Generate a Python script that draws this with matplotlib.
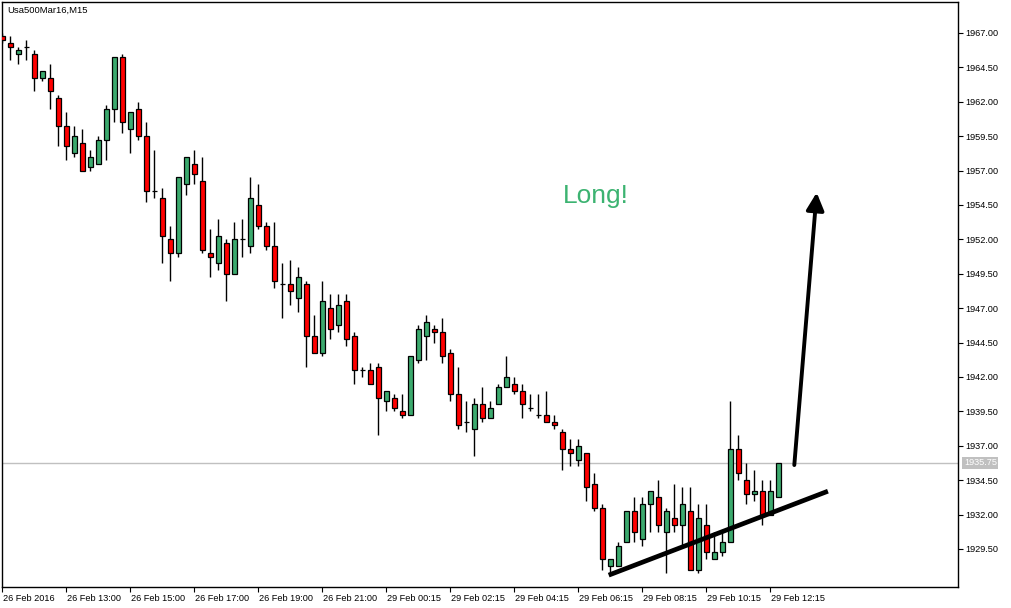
import numpy as np
import matplotlib
matplotlib.use('Agg')
import matplotlib.pyplot as plt
from matplotlib.transforms import ScaledTranslation, blended_transform_factory

plt.rcParams['font.family'] = ['Liberation Sans', 'DejaVu Sans']

# M15 candles, Usa500Mar16
opens = [1966.75, 1966.25, 1965.5, 1966.0, 1965.5, 1963.75, 1963.75, 1962.25, 1960.25, 1958.25,
         1959.0, 1957.25, 1957.5, 1959.25, 1961.5, 1965.25, 1960.0, 1961.5, 1959.5, 1955.5,
         1955.0, 1952.0, 1951.0, 1956.0, 1957.5, 1956.25, 1951.0, 1950.25, 1951.75, 1949.5,
         1952.0, 1951.5, 1954.5, 1953.0, 1951.5, 1948.75, 1948.75, 1947.75, 1948.75, 1945.0,
         1943.75, 1947.0, 1945.75, 1947.5, 1945.0, 1942.5, 1942.5, 1942.75, 1940.25, 1940.5,
         1939.5, 1939.25, 1943.25, 1945.0, 1945.5, 1945.25, 1943.75, 1940.75, 1938.75, 1938.25,
         1940.0, 1939.0, 1940.0, 1941.25, 1941.5, 1941.0, 1939.75, 1939.25, 1939.25, 1938.75,
         1938.0, 1936.75, 1936.0, 1936.5, 1934.25, 1932.5, 1928.25, 1928.25, 1930.0, 1932.25,
         1930.25, 1932.75, 1933.25, 1930.75, 1931.75, 1931.25, 1932.25, 1928.0, 1931.25, 1928.75,
         1929.25, 1930.0, 1936.75, 1934.5, 1933.5, 1933.75, 1932.0, 1933.25]
highs = [1967.0, 1966.75, 1966.0, 1966.5, 1965.75, 1964.25, 1964.75, 1962.5, 1961.25, 1960.25,
         1960.0, 1958.5, 1959.5, 1961.75, 1965.25, 1965.5, 1961.25, 1962.0, 1960.5, 1958.5,
         1955.75, 1953.0, 1956.5, 1958.0, 1958.5, 1958.0, 1952.75, 1953.5, 1952.0, 1953.25,
         1953.5, 1956.5, 1956.0, 1953.25, 1953.25, 1950.25, 1950.5, 1950.0, 1949.0, 1946.5,
         1949.0, 1948.0, 1948.0, 1948.0, 1945.25, 1942.75, 1943.0, 1943.0, 1941.0, 1940.75,
         1940.75, 1943.5, 1945.75, 1946.5, 1945.75, 1946.25, 1944.0, 1942.75, 1940.25, 1940.5,
         1941.25, 1940.25, 1941.5, 1943.5, 1942.0, 1941.5, 1940.75, 1940.75, 1941.0, 1939.25,
         1938.25, 1937.5, 1937.5, 1936.5, 1935.0, 1932.75, 1928.75, 1930.0, 1932.25, 1933.25,
         1933.25, 1933.75, 1934.5, 1932.5, 1934.25, 1934.0, 1934.0, 1932.75, 1932.75, 1930.75,
         1930.75, 1940.25, 1937.75, 1935.75, 1935.25, 1934.5, 1934.5, 1935.75]
lows = [1966.25, 1965.0, 1964.75, 1965.0, 1962.75, 1963.5, 1961.5, 1958.75, 1957.75, 1958.0,
        1957.0, 1957.0, 1957.5, 1957.75, 1960.5, 1959.75, 1958.25, 1959.25, 1954.75, 1955.0,
        1950.25, 1949.0, 1950.75, 1955.25, 1956.0, 1951.0, 1949.25, 1949.75, 1947.5, 1949.5,
        1950.75, 1951.0, 1952.75, 1951.25, 1948.5, 1946.25, 1947.25, 1946.75, 1942.75, 1943.75,
        1943.5, 1944.75, 1945.25, 1944.25, 1941.5, 1942.0, 1941.5, 1937.75, 1939.5, 1939.5,
        1939.0, 1939.25, 1943.0, 1943.25, 1944.5, 1943.0, 1940.25, 1938.25, 1938.0, 1936.25,
        1938.75, 1939.0, 1940.0, 1941.25, 1940.75, 1939.0, 1939.5, 1939.0, 1938.75, 1938.25,
        1935.25, 1935.5, 1935.5, 1933.0, 1932.25, 1928.0, 1927.75, 1928.25, 1930.0, 1930.0,
        1929.75, 1930.75, 1930.75, 1927.75, 1930.75, 1929.75, 1928.0, 1927.75, 1928.75, 1928.75,
        1929.0, 1930.0, 1934.5, 1932.75, 1933.0, 1931.25, 1932.0, 1933.25]
closes = [1966.5, 1966.0, 1965.75, 1966.0, 1963.75, 1964.25, 1962.75, 1960.25, 1958.75, 1959.5,
          1957.0, 1958.0, 1959.25, 1961.5, 1965.25, 1960.5, 1961.25, 1959.5, 1955.5, 1955.5,
          1952.25, 1951.0, 1956.5, 1958.0, 1956.75, 1951.25, 1950.75, 1952.25, 1949.5, 1952.0,
          1952.0, 1955.0, 1953.0, 1951.5, 1949.0, 1948.75, 1948.25, 1949.25, 1945.0, 1943.75,
          1947.5, 1945.5, 1947.25, 1944.75, 1942.5, 1942.5, 1941.5, 1940.5, 1941.0, 1939.75,
          1939.25, 1943.5, 1945.5, 1946.0, 1945.25, 1943.5, 1940.75, 1938.5, 1938.75, 1940.0,
          1939.0, 1939.75, 1941.25, 1942.0, 1941.0, 1940.0, 1939.75, 1939.25, 1938.75, 1938.5,
          1936.75, 1936.5, 1937.0, 1934.0, 1932.5, 1928.75, 1928.75, 1929.75, 1932.25, 1930.75,
          1932.75, 1933.75, 1931.25, 1932.25, 1931.25, 1932.75, 1928.0, 1931.75, 1929.25, 1929.25,
          1930.0, 1936.75, 1935.0, 1933.5, 1933.75, 1932.0, 1933.75, 1935.75]

time_labels = ['26 Feb 2016', '26 Feb 13:00', '26 Feb 15:00', '26 Feb 17:00', '26 Feb 19:00',
               '26 Feb 21:00', '29 Feb 00:15', '29 Feb 02:15', '29 Feb 04:15', '29 Feb 06:15',
               '29 Feb 08:15', '29 Feb 10:15', '29 Feb 12:15']
price_ticks = np.arange(1929.5, 1967.01, 2.5)
last_price = 1935.75

# hand-drawn objects
trend_x = [75.8, 103.2]
trend_y = [1927.6, 1933.7]
arrow_from = (99.0, 1935.6)
arrow_to = (101.8, 1955.4)
note_pos = (74.2, 1955.15)

o = np.array(opens)
c = np.array(closes)
x = np.arange(len(o))
colors = np.where(c >= o, '#3CAA6E', '#FF0000')

fig = plt.figure(figsize=(10.11, 6.08), dpi=100)
ax = fig.add_axes([2.3 / 1011, 21.3 / 608, 956 / 1011, 585 / 608])

ax.axhline(last_price, color='#C0C0C0', lw=1, zorder=1)
ax.vlines(x, lows, highs, color='black', lw=1.0, zorder=2)
ax.bar(x, c - o, bottom=o, width=0.6, color=colors, edgecolor='black', lw=0.9, zorder=3)

ax.plot(trend_x, trend_y, color='black', lw=3.4, solid_capstyle='butt', zorder=4)
ax.annotate('', xy=arrow_to, xytext=arrow_from,
            arrowprops=dict(arrowstyle='-|>,head_length=0.75,head_width=0.38', color='black',
                            lw=2.8, mutation_scale=14, shrinkA=0, shrinkB=0), zorder=4)
ax.text(note_pos[0], note_pos[1], 'Long!', color='#3CB371', fontsize=19, ha='center', va='center')

ax.set_xlim(0, 119.5)
ax.set_ylim(1926.76, 1969.27)

ax.yaxis.tick_right()
ax.set_yticks(price_ticks)
ax.set_yticklabels([f'{v:.2f}' for v in price_ticks])
ax.set_xticks(np.arange(0, 8 * len(time_labels), 8))
ax.set_xticklabels(time_labels)
ax.tick_params(axis='both', direction='out', length=3.5, width=0.8, labelsize=6.6, colors='black')
ax.tick_params(axis='x', pad=1.5)
ax.tick_params(axis='y', pad=1.5)
for lbl in ax.get_xticklabels():
    lbl.set_horizontalalignment('left')
    lbl.set_transform(lbl.get_transform() + ScaledTranslation(1 / 100, 0, fig.dpi_scale_trans))
for sp in ax.spines.values():
    sp.set_color('black')
    sp.set_linewidth(1.0)

trans = blended_transform_factory(ax.transAxes, ax.transData)
ax.annotate(f'{last_price:.2f}', xy=(1.0, last_price), xycoords=trans, xytext=(4, 0),
            textcoords='offset points', ha='left', va='center', fontsize=6.6, color='white',
            bbox=dict(boxstyle='square,pad=0.15', facecolor='#C0C0C0', edgecolor='none'))

ax.text(0.005, 0.986, 'Usa500Mar16,M15', transform=ax.transAxes, fontsize=6.8,
        ha='left', va='center')

fig.savefig('out.png', dpi=100)
